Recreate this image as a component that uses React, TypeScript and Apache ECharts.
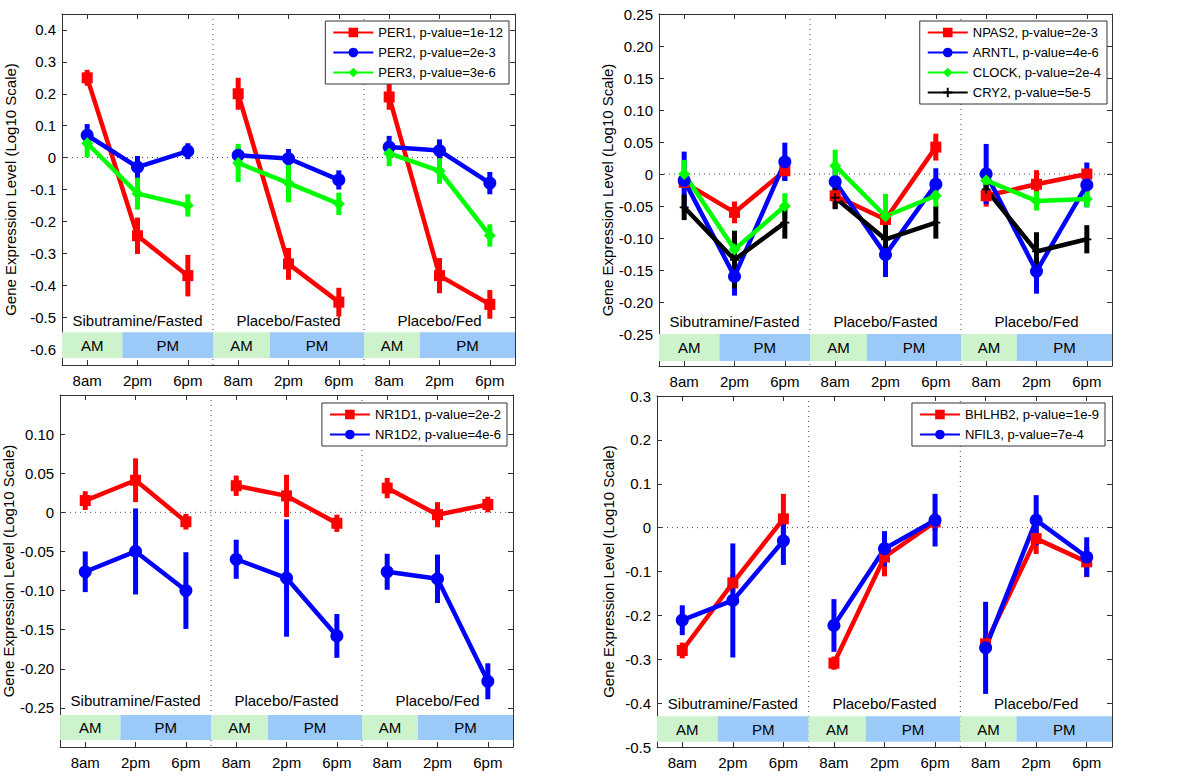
import React, { useEffect, useRef } from "react";
import * as echarts from "echarts";

// ---------- data ----------
const timeLabels = ["8am", "2pm", "6pm"];
const groupLabels = ["Sibutramine/Fasted", "Placebo/Fasted", "Placebo/Fed"];
const groupCenters = [1, 4, 7];
const separators = [2.5, 5.5];
// AM / PM shading bands: [start, end, label]
const bandEdges: [number, number, string][] = [
  [-0.5, 0.7, "AM"], [0.7, 2.5, "PM"],
  [2.5, 3.63, "AM"], [3.63, 5.5, "PM"],
  [5.5, 6.61, "AM"], [6.61, 8.5, "PM"],
];

// Panel 1
const per1Mean = [0.25, -0.245, -0.37, 0.2, -0.333, -0.453, 0.19, -0.37, -0.46];
const per1Err = [0.025, 0.057, 0.065, 0.05, 0.05, 0.045, 0.04, 0.055, 0.045];
const per2Mean = [0.07, -0.03, 0.02, 0.007, -0.003, -0.07, 0.033, 0.022, -0.08];
const per2Err = [0.035, 0.035, 0.025, 0.025, 0.03, 0.03, 0.035, 0.035, 0.035];
const per3Mean = [0.045, -0.113, -0.15, -0.017, -0.08, -0.145, 0.013, -0.042, -0.244];
const per3Err = [0.045, 0.05, 0.035, 0.06, 0.06, 0.035, 0.04, 0.04, 0.035];
const p1Ticks = [-0.6, -0.5, -0.4, -0.3, -0.2, -0.1, 0, 0.1, 0.2, 0.3, 0.4];

// Panel 2
const npas2Mean = [-0.013, -0.06, 0.005, -0.034, -0.071, 0.042, -0.034, -0.016, 0];
const npas2Err = [0.01, 0.017, 0.015, 0.02, 0.015, 0.021, 0.017, 0.022, 0.008];
const arntlMean = [-0.01, -0.16, 0.019, -0.012, -0.126, -0.016, 0, -0.152, -0.017];
const arntlErr = [0.045, 0.03, 0.03, 0.025, 0.035, 0.025, 0.047, 0.035, 0.035];
const clockMean = [0, -0.118, -0.05, 0.013, -0.066, -0.034, -0.01, -0.042, -0.039];
const clockErr = [0.022, 0.03, 0.02, 0.025, 0.035, 0.02, 0.012, 0.015, 0.013];
const cry2Mean = [-0.052, -0.134, -0.076, -0.037, -0.102, -0.076, -0.024, -0.121, -0.102];
const cry2Err = [0.02, 0.045, 0.025, 0.018, 0.034, 0.025, 0.018, 0.03, 0.022];
const p2Ticks = [-0.25, -0.2, -0.15, -0.1, -0.05, 0, 0.05, 0.1, 0.15, 0.2, 0.25];

// Panel 3
const nr1d1Mean = [0.015, 0.041, -0.012, 0.034, 0.021, -0.014, 0.031, -0.003, 0.01];
const nr1d1Err = [0.012, 0.028, 0.01, 0.013, 0.027, 0.011, 0.013, 0.016, 0.01];
const nr1d2Mean = [-0.076, -0.05, -0.1, -0.06, -0.084, -0.158, -0.076, -0.085, -0.216];
const nr1d2Err = [0.026, 0.055, 0.049, 0.025, 0.075, 0.028, 0.023, 0.031, 0.023];
const p3Ticks = [-0.25, -0.2, -0.15, -0.1, -0.05, 0, 0.05, 0.1];

// Panel 4
const bhlhb2Mean = [-0.28, -0.126, 0.02, -0.309, -0.067, 0.013, -0.265, -0.025, -0.078];
const bhlhb2Err = [0.018, 0.02, 0.057, 0.015, 0.044, 0.02, 0.02, 0.035, 0.035];
const nfil3Mean = [-0.211, -0.166, -0.03, -0.223, -0.048, 0.017, -0.274, 0.017, -0.067];
const nfil3Err = [0.034, 0.13, 0.055, 0.06, 0.04, 0.06, 0.105, 0.057, 0.045];
const p4Ticks = [-0.5, -0.4, -0.3, -0.2, -0.1, 0, 0.1, 0.2, 0.3];

const xTicks = [0, 1, 2, 3, 4, 5, 6, 7, 8];

// ---------- styling ----------
const FONT = "'Liberation Sans', Arial, Helvetica, sans-serif";
const RED = "#ff0000";
const BLUE = "#0000ff";
const GREEN = "#00ff00";
const BLACK = "#000000";
const AM_COLOR = "#cdf3cd";
const PM_COLOR = "#9ccaf8";
const AXIS_COLOR = "#333333";
const PLUS = "path://M4,0L6,0L6,4L10,4L10,6L6,6L6,10L4,10L4,6L0,6L0,4L4,4Z";

type Gene = { name: string; color: string; symbol: string; size: number; mean: number[]; err: number[] };

const panels = [
  {
    grid: { left: 62, top: 14, width: 453, height: 351 },
    yMin: -0.65, yMax: 0.45, ticks: p1Ticks, dec: 1,
    band: [-0.628, -0.547], labelY: -0.51,
    legend: { right: 691, top: 21 }, nameGap: 44,
    genes: [
      { name: "PER1, p-value=1e-12", color: RED, symbol: "rect", size: 11, mean: per1Mean, err: per1Err },
      { name: "PER2, p-value=2e-3", color: BLUE, symbol: "circle", size: 13, mean: per2Mean, err: per2Err },
      { name: "PER3, p-value=3e-6", color: GREEN, symbol: "diamond", size: 12, mean: per3Mean, err: per3Err },
    ] as Gene[],
  },
  {
    grid: { left: 659, top: 14, width: 453, height: 352 },
    yMin: -0.3, yMax: 0.25, ticks: p2Ticks, dec: 2,
    band: [-0.292, -0.25], labelY: -0.231,
    legend: { right: 93, top: 21 }, nameGap: 44,
    genes: [
      { name: "NPAS2, p-value=2e-3", color: RED, symbol: "rect", size: 11, mean: npas2Mean, err: npas2Err },
      { name: "ARNTL, p-value=4e-6", color: BLUE, symbol: "circle", size: 13, mean: arntlMean, err: arntlErr },
      { name: "CLOCK, p-value=2e-4", color: GREEN, symbol: "diamond", size: 12, mean: clockMean, err: clockErr },
      { name: "CRY2, p-value=5e-5", color: BLACK, symbol: PLUS, size: 9, mean: cry2Mean, err: cry2Err },
    ] as Gene[],
  },
  {
    grid: { left: 60, top: 395, width: 453, height: 352 },
    yMin: -0.3, yMax: 0.15, ticks: p3Ticks, dec: 2,
    band: [-0.291, -0.259], labelY: -0.241,
    legend: { right: 693, top: 403 }, nameGap: 43,
    genes: [
      { name: "NR1D1, p-value=2e-2", color: RED, symbol: "rect", size: 11, mean: nr1d1Mean, err: nr1d1Err },
      { name: "NR1D2, p-value=4e-6", color: BLUE, symbol: "circle", size: 13, mean: nr1d2Mean, err: nr1d2Err },
    ] as Gene[],
  },
  {
    grid: { left: 657, top: 396, width: 455, height: 351 },
    yMin: -0.5, yMax: 0.3, ticks: p4Ticks, dec: 1,
    band: [-0.488, -0.43], labelY: -0.4,
    legend: { right: 95, top: 403 }, nameGap: 41,
    genes: [
      { name: "BHLHB2, p-value=1e-9", color: RED, symbol: "rect", size: 11, mean: bhlhb2Mean, err: bhlhb2Err },
      { name: "NFIL3, p-value=7e-4", color: BLUE, symbol: "circle", size: 13, mean: nfil3Mean, err: nfil3Err },
    ] as Gene[],
  },
];

function lineData(mean: number[]) {
  const out: any[] = [];
  mean.forEach((v, i) => {
    if (i > 0 && i % 3 === 0) out.push([i - 0.5, "-"]);
    out.push([i, v]);
  });
  return out;
}

function buildOption() {
  const grid: any[] = [];
  const xAxis: any[] = [];
  const yAxis: any[] = [];
  const legend: any[] = [];
  const series: any[] = [];

  panels.forEach((p, pi) => {
    grid.push({ ...p.grid, containLabel: false });
    const fmtY = (v: number) => (Math.abs(v) < 1e-9 ? "0" : v.toFixed(p.dec));
    const line = { show: true, onZero: false, lineStyle: { color: AXIS_COLOR, width: 1 } };
    // bottom x
    xAxis.push({
      type: "value", gridIndex: pi, min: -0.5, max: 8.5, position: "bottom",
      axisLine: line,
      axisTick: { show: true, inside: true, length: 5, customValues: xTicks, lineStyle: { color: AXIS_COLOR } },
      axisLabel: {
        show: true, customValues: xTicks, margin: 8, fontSize: 15, fontFamily: FONT, color: "#000",
        formatter: (v: number) => timeLabels[Math.round(v) % 3],
      },
      splitLine: { show: false },
    });
    // top x (box)
    xAxis.push({
      type: "value", gridIndex: pi, min: -0.5, max: 8.5, position: "top",
      axisLine: line,
      axisTick: { show: true, inside: true, length: 5, customValues: xTicks, lineStyle: { color: AXIS_COLOR } },
      axisLabel: { show: false },
      splitLine: { show: false },
    });
    // left y
    yAxis.push({
      type: "value", gridIndex: pi, min: p.yMin, max: p.yMax, position: "left",
      name: "Gene Expression Level (Log10 Scale)", nameLocation: "middle", nameGap: p.nameGap,
      nameTextStyle: { fontSize: 15, fontFamily: FONT, color: "#000" },
      axisLine: line,
      axisTick: { show: true, inside: true, length: 5, customValues: p.ticks, lineStyle: { color: AXIS_COLOR } },
      axisLabel: { show: true, customValues: p.ticks, margin: 6, fontSize: 15, fontFamily: FONT, color: "#000", formatter: fmtY },
      splitLine: { show: false },
    });
    // right y (box)
    yAxis.push({
      type: "value", gridIndex: pi, min: p.yMin, max: p.yMax, position: "right",
      axisLine: line,
      axisTick: { show: true, inside: true, length: 5, customValues: p.ticks, lineStyle: { color: AXIS_COLOR } },
      axisLabel: { show: false },
      splitLine: { show: false },
    });
    const xi = pi * 2;
    const yi = pi * 2;

    // guides: zero line and separators
    series.push({
      type: "custom", xAxisIndex: xi, yAxisIndex: yi, silent: true, z: 1,
      data: [[0]],
      renderItem: (params: any, api: any) => {
        const a = api.coord([-0.5, 0]);
        const b = api.coord([8.5, 0]);
        const children: any[] = [
          { type: "line", shape: { x1: a[0], y1: a[1], x2: b[0], y2: b[1] }, style: { stroke: "#444", lineWidth: 1, lineDash: [1, 4] } },
        ];
        separators.forEach((s) => {
          const t = api.coord([s, p.yMax]);
          const u = api.coord([s, p.yMin]);
          children.push({ type: "line", shape: { x1: t[0], y1: t[1], x2: u[0], y2: u[1] }, style: { stroke: "#444", lineWidth: 1, lineDash: [1, 4] } });
        });
        return { type: "group", children };
      },
    });

    // AM/PM bands
    series.push({
      type: "custom", xAxisIndex: xi, yAxisIndex: yi, silent: true, z: 2,
      data: bandEdges.map((b) => [b[0], b[1], b[2] === "AM" ? 0 : 1]),
      renderItem: (params: any, api: any) => {
        const s = api.value(0), e = api.value(1), kind = api.value(2);
        const tl = api.coord([s, p.band[1]]);
        const br = api.coord([e, p.band[0]]);
        const cx = (tl[0] + br[0]) / 2, cy = (tl[1] + br[1]) / 2;
        return {
          type: "group",
          children: [
            { type: "rect", shape: { x: tl[0], y: tl[1], width: br[0] - tl[0], height: br[1] - tl[1] }, style: { fill: kind === 0 ? AM_COLOR : PM_COLOR } },
            {
              type: "text", x: cx, y: cy,
              style: { text: kind === 0 ? "AM" : "PM", fill: "#000", font: `15px ${FONT}`, align: "center", verticalAlign: "middle", textAlign: "center", textVerticalAlign: "middle" },
            },
          ],
        };
      },
    });

    // group labels
    series.push({
      type: "custom", xAxisIndex: xi, yAxisIndex: yi, silent: true, z: 2,
      data: groupCenters.map((c, gi) => [c, p.labelY, gi]),
      renderItem: (params: any, api: any) => {
        const pt = api.coord([api.value(0), api.value(1)]);
        return {
          type: "text", x: pt[0], y: pt[1],
          style: { text: groupLabels[api.value(2)], fill: "#000", font: `15px ${FONT}`, align: "center", verticalAlign: "middle", textAlign: "center", textVerticalAlign: "middle" },
        };
      },
    });

    // genes
    p.genes.forEach((g) => {
      series.push({
        type: "custom", xAxisIndex: xi, yAxisIndex: yi, silent: true, z: 3,
        data: g.mean.map((v, i) => [i, v, g.err[i]]),
        renderItem: (params: any, api: any) => {
          const x = api.value(0), y = api.value(1), e = api.value(2);
          const lo = api.coord([x, y - e]);
          const hi = api.coord([x, y + e]);
          return { type: "line", shape: { x1: lo[0], y1: lo[1], x2: hi[0], y2: hi[1] }, style: { stroke: g.color, lineWidth: 5 } };
        },
      });
      series.push({
        type: "line", name: g.name, xAxisIndex: xi, yAxisIndex: yi, z: 3,
        data: lineData(g.mean),
        connectNulls: false,
        symbol: g.symbol, symbolSize: g.size, showSymbol: true,
        lineStyle: { color: g.color, width: 4.5 },
        itemStyle: { color: g.color, borderColor: g.color, borderWidth: 0 },
        emphasis: { disabled: true },
      });
    });

    legend.push({
      show: true, right: p.legend.right, top: p.legend.top, orient: "vertical",
      data: p.genes.map((g) => g.name), selectedMode: false,
      backgroundColor: "#fff", borderColor: "#333", borderWidth: 1, borderRadius: 0,
      padding: [5, 6, 5, 7], itemGap: 7, itemWidth: 40, itemHeight: 12,
      textStyle: { fontSize: 13, fontFamily: FONT, color: "#000" },
    });
  });

  return {
    animation: false,
    backgroundColor: "#fff",
    textStyle: { fontFamily: FONT },
    grid, xAxis, yAxis, legend, series,
  };
}

export default function App() {
  const ref = useRef<HTMLDivElement>(null);
  useEffect(() => {
    document.body.style.margin = "0";
    if (!ref.current) return;
    const chart = echarts.init(ref.current, null, { renderer: "svg" });
    chart.setOption(buildOption() as any);
    return () => chart.dispose();
  }, []);
  return <div ref={ref} style={{ width: 1200, height: 777 }} />;
}
